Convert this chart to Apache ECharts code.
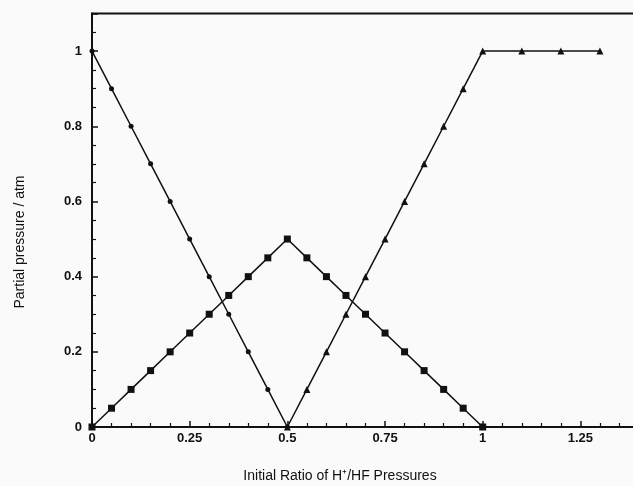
<!DOCTYPE html>
<html><head><meta charset="utf-8">
<script src="https://cdn.jsdelivr.net/npm/echarts@6/dist/echarts.min.js"></script>
<style>html,body{margin:0;padding:0;background:#fafafa;}#c{width:633px;height:486px;}</style>
</head><body><div id="c"></div>
<script>
const circX = [0, 0.05, 0.1, 0.15, 0.2, 0.25, 0.3, 0.35, 0.4, 0.45, 0.5];
const circY = [1, 0.9, 0.8, 0.7, 0.6, 0.5, 0.4, 0.3, 0.2, 0.1, 0];
const sqX = [0, 0.05, 0.1, 0.15, 0.2, 0.25, 0.3, 0.35, 0.4, 0.45, 0.5, 0.55, 0.6, 0.65, 0.7, 0.75, 0.8, 0.85, 0.9, 0.95, 1.0];
const sqY = [0, 0.05, 0.1, 0.15, 0.2, 0.25, 0.3, 0.35, 0.4, 0.45, 0.5, 0.45, 0.4, 0.35, 0.3, 0.25, 0.2, 0.15, 0.1, 0.05, 0];
const triX = [0.5, 0.55, 0.6, 0.65, 0.7, 0.75, 0.8, 0.85, 0.9, 0.95, 1.0, 1.1, 1.2, 1.3];
const triY = [0, 0.1, 0.2, 0.3, 0.4, 0.5, 0.6, 0.7, 0.8, 0.9, 1.0, 1.0, 1.0, 1.0];
const xTickLabels = ['0', '0.25', '0.5', '0.75', '1', '1.25'];
const yTickLabels = ['0', '0.2', '0.4', '0.6', '0.8', '1'];
const xTitle = 'Initial Ratio of H\u207A/HF Pressures';
const yTitle = 'Partial pressure / atm';

const zip = (a, b) => a.map((v, i) => [v, b[i]]);
const chart = echarts.init(document.getElementById('c'));
const lab = {color: '#111', fontFamily: 'Liberation Sans, Arial, sans-serif', fontWeight: 'bold', fontSize: 13};
function fmt(list){
  return function(v){
    const s = String(Math.round(v * 100) / 100);
    return list.indexOf(s) >= 0 ? s : '';
  };
}
const base = {type: 'line', color: '#111', lineStyle: {color: '#111', width: 1.5}, itemStyle: {color: '#111'}, animation: false, z: 3};
chart.setOption({
  backgroundColor: '#fafafa',
  animation: false,
  grid: {left: 92, top: 13.5, height: 413.5, width: 547, outerBoundsMode: 'none', containLabel: false, show: true, borderColor: '#111', borderWidth: 2, backgroundColor: 'transparent'},
  xAxis: {type: 'value', min: 0, max: 1.4, interval: 0.25,
    axisLine: {show: true, lineStyle: {color: '#111', width: 2}},
    axisTick: {show: true, inside: true, length: 6, lineStyle: {color: '#111', width: 1.5}},
    minorTick: {show: true, splitNumber: 5, length: 4, lineStyle: {color: '#111', width: 1.2}},
    splitLine: {show: false},
    axisLabel: Object.assign({margin: 5, formatter: fmt(xTickLabels)}, lab)},
  yAxis: {type: 'value', min: 0, max: 1.1, interval: 0.2,
    axisLine: {show: true, lineStyle: {color: '#111', width: 2}},
    axisTick: {show: true, inside: true, length: 6, lineStyle: {color: '#111', width: 1.5}},
    minorTick: {show: true, splitNumber: 4, length: 4, lineStyle: {color: '#111', width: 1.2}},
    splitLine: {show: false},
    axisLabel: Object.assign({margin: 10, formatter: fmt(yTickLabels)}, lab)},
  graphic: [
    {type: 'text', x: 340, y: 476, style: {text: xTitle, fill: '#111', align: 'center', verticalAlign: 'middle', font: '14px Liberation Sans, Arial, sans-serif'}},
    {type: 'text', x: 20, y: 242, rotation: Math.PI / 2, style: {text: yTitle, fill: '#111', align: 'center', verticalAlign: 'middle', font: '14px Liberation Sans, Arial, sans-serif'}}
  ],
  series: [
    Object.assign({}, base, {name: 'c', data: zip(circX, circY), symbol: 'circle', symbolSize: 5}),
    Object.assign({}, base, {name: 's', data: zip(sqX, sqY), symbol: 'rect', symbolSize: 7}),
    Object.assign({}, base, {name: 't', data: zip(triX, triY), symbol: 'triangle', symbolSize: 7})
  ]
});
</script></body></html>
